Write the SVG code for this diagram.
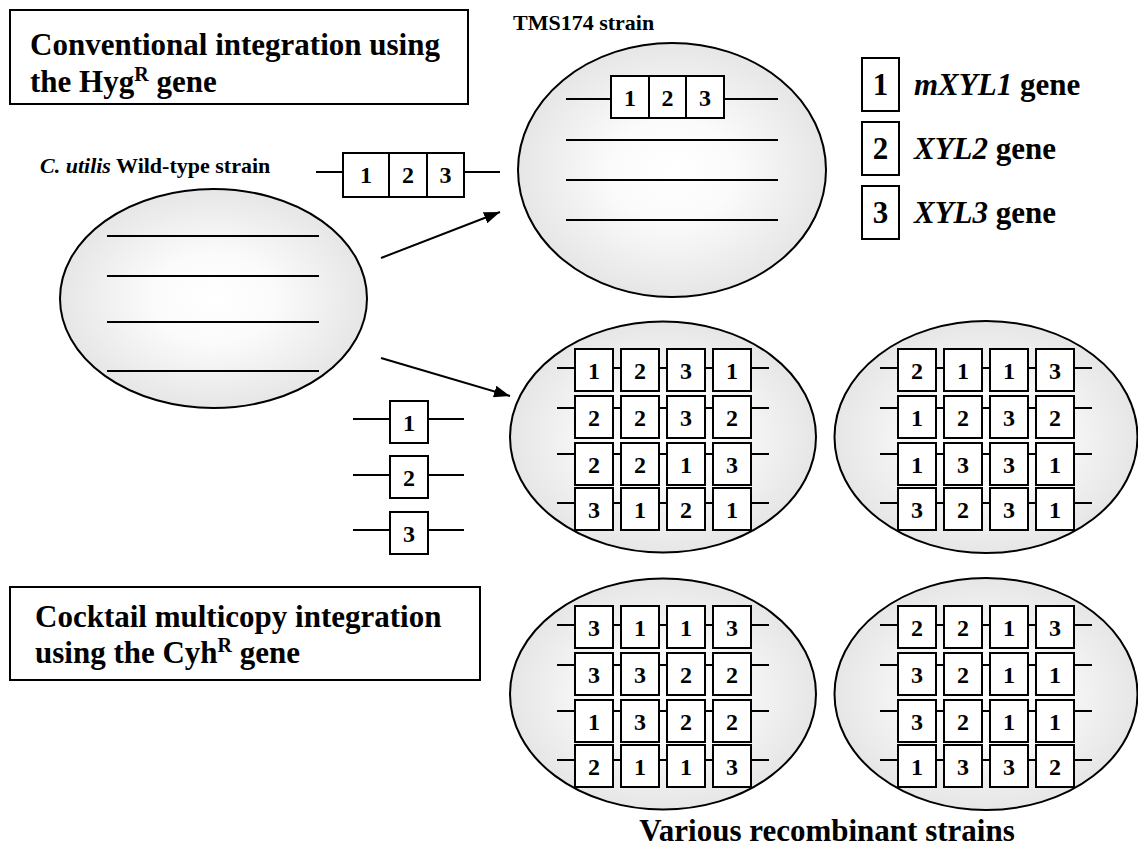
<svg xmlns="http://www.w3.org/2000/svg" xmlns:xlink="http://www.w3.org/1999/xlink" width="1138" height="852" viewBox="0 0 1138 852">
<style>
.cell{fill:url(#cellGrad);stroke:#000;stroke-width:2}
.dna{stroke:#000;stroke-width:2;fill:none}
.gene{fill:#fff;stroke:#000;stroke-width:2}
.frame{fill:#fff;stroke:#000;stroke-width:2}
.num{font-family:"Liberation Serif","Times New Roman",serif;font-weight:bold;font-size:24px;text-anchor:middle;fill:#000}
.num-lg{font-family:"Liberation Serif","Times New Roman",serif;font-weight:bold;font-size:31px;text-anchor:middle;fill:#000}
.title{font-family:"Liberation Serif","Times New Roman",serif;font-weight:bold;font-size:31px;fill:#000}
.label{font-family:"Liberation Serif","Times New Roman",serif;font-weight:bold;font-size:22px;fill:#000}
.conn{stroke:#000;stroke-width:2;fill:none}
</style>
<defs>
<radialGradient id="cellGrad" cx="50%" cy="50%" r="50%">
<stop offset="0" stop-color="#ffffff"/>
<stop offset="0.4" stop-color="#fbfbfb"/>
<stop offset="1" stop-color="#e6e6e6"/>
</radialGradient>
<marker id="arrow" viewBox="0 0 16 12" refX="16" refY="6" markerWidth="16" markerHeight="12" markerUnits="userSpaceOnUse" orient="auto">
<path d="M0,0 L16,6 L0,12 z" fill="#000"/>
</marker>
<g id="grid">
<path class="dna" d="M-106,-69 H106 M-106,-29 H106 M-106,17 H106 M-106,66 H106"/>
<rect class="gene" x="-88" y="-88" width="38" height="42"/><rect class="gene" x="-42" y="-88" width="38" height="42"/><rect class="gene" x="4" y="-88" width="38" height="42"/><rect class="gene" x="50" y="-88" width="38" height="42"/>
<rect class="gene" x="-88" y="-41" width="38" height="42"/><rect class="gene" x="-42" y="-41" width="38" height="42"/><rect class="gene" x="4" y="-41" width="38" height="42"/><rect class="gene" x="50" y="-41" width="38" height="42"/>
<rect class="gene" x="-88" y="6" width="38" height="42"/><rect class="gene" x="-42" y="6" width="38" height="42"/><rect class="gene" x="4" y="6" width="38" height="42"/><rect class="gene" x="50" y="6" width="38" height="42"/>
<rect class="gene" x="-88" y="51" width="38" height="42"/><rect class="gene" x="-42" y="51" width="38" height="42"/><rect class="gene" x="4" y="51" width="38" height="42"/><rect class="gene" x="50" y="51" width="38" height="42"/>
</g>
</defs>

<g id="box-conventional">
<rect class="frame" x="10" y="10" width="458" height="94"/>
<text class="title" x="30" y="55">Conventional integration using</text>
<text class="title" x="30" y="92">the Hyg<tspan font-size="20" dy="-11">R</tspan><tspan dy="11"> gene</tspan></text>
</g>

<g id="box-cocktail">
<rect class="frame" x="10" y="587" width="470" height="93"/>
<text class="title" x="35" y="627">Cocktail multicopy integration</text>
<text class="title" x="35" y="663">using the Cyh<tspan font-size="20" dy="-11">R</tspan><tspan dy="11"> gene</tspan></text>
</g>

<g id="wild-type">
<text class="label" x="40" y="173"><tspan font-style="italic">C. utilis</tspan> Wild-type strain</text>
<ellipse class="cell" cx="213.5" cy="298.5" rx="153.5" ry="109.5"/>
<path class="dna" d="M107,236 H319 M107,276 H319 M107,322 H319 M107,371 H319"/>
</g>

<g id="construct-123">
<path class="dna" d="M316,172 H500"/>
<rect class="gene" x="343" y="153" width="46" height="44"/>
<rect class="gene" x="389" y="153" width="38" height="44"/>
<rect class="gene" x="427" y="153" width="37" height="44"/>
<text class="num" x="366" y="183">1</text>
<text class="num" x="408" y="183">2</text>
<text class="num" x="445.5" y="183">3</text>
</g>

<g id="tms174">
<text class="label" x="513" y="30">TMS174 strain</text>
<ellipse class="cell" cx="672" cy="170" rx="154" ry="127"/>
<path class="dna" d="M566,99 H778 M566,140 H778 M566,180 H778 M566,220 H778"/>
<rect class="gene" x="611" y="76" width="38" height="42"/>
<rect class="gene" x="649" y="76" width="37" height="42"/>
<rect class="gene" x="686" y="76" width="38" height="42"/>
<text class="num" x="630" y="106">1</text>
<text class="num" x="667.5" y="106">2</text>
<text class="num" x="705" y="106">3</text>
</g>

<g id="legend">
<rect class="gene" x="862" y="58" width="37" height="53"/>
<rect class="gene" x="862" y="122" width="37" height="53"/>
<rect class="gene" x="862" y="186" width="37" height="53"/>
<text class="num-lg" x="880.5" y="95">1</text>
<text class="num-lg" x="880.5" y="159">2</text>
<text class="num-lg" x="880.5" y="223">3</text>
<text class="title" x="914" y="95"><tspan font-style="italic">mXYL1</tspan> gene</text>
<text class="title" x="914" y="159"><tspan font-style="italic">XYL2</tspan> gene</text>
<text class="title" x="914" y="223"><tspan font-style="italic">XYL3</tspan> gene</text>
</g>

<g id="single-genes">
<path class="dna" d="M353,419 H464 M353,475 H464 M353,530 H464"/>
<rect class="gene" x="390" y="401" width="38" height="42"/>
<rect class="gene" x="390" y="456" width="38" height="42"/>
<rect class="gene" x="390" y="512" width="38" height="42"/>
<text class="num" x="409" y="431">1</text>
<text class="num" x="409" y="486">2</text>
<text class="num" x="409" y="542">3</text>
</g>

<g id="recombinant-1" transform="translate(663,437)">
<ellipse class="cell" cx="0" cy="0" rx="153" ry="115.5"/>
<use xlink:href="#grid" href="#grid"/>
<text class="num" x="-69" y="-58">1</text><text class="num" x="-23" y="-58">2</text><text class="num" x="23" y="-58">3</text><text class="num" x="69" y="-58">1</text>
<text class="num" x="-69" y="-11">2</text><text class="num" x="-23" y="-11">2</text><text class="num" x="23" y="-11">3</text><text class="num" x="69" y="-11">2</text>
<text class="num" x="-69" y="36">2</text><text class="num" x="-23" y="36">2</text><text class="num" x="23" y="36">1</text><text class="num" x="69" y="36">3</text>
<text class="num" x="-69" y="81">3</text><text class="num" x="-23" y="81">1</text><text class="num" x="23" y="81">2</text><text class="num" x="69" y="81">1</text>
</g>

<g id="recombinant-2" transform="translate(986,437)">
<ellipse class="cell" cx="0" cy="0" rx="151.5" ry="116"/>
<use xlink:href="#grid" href="#grid"/>
<text class="num" x="-69" y="-58">2</text><text class="num" x="-23" y="-58">1</text><text class="num" x="23" y="-58">1</text><text class="num" x="69" y="-58">3</text>
<text class="num" x="-69" y="-11">1</text><text class="num" x="-23" y="-11">2</text><text class="num" x="23" y="-11">3</text><text class="num" x="69" y="-11">2</text>
<text class="num" x="-69" y="36">1</text><text class="num" x="-23" y="36">3</text><text class="num" x="23" y="36">3</text><text class="num" x="69" y="36">1</text>
<text class="num" x="-69" y="81">3</text><text class="num" x="-23" y="81">2</text><text class="num" x="23" y="81">3</text><text class="num" x="69" y="81">1</text>
</g>

<g id="recombinant-3" transform="translate(663,694)">
<ellipse class="cell" cx="0" cy="0" rx="153" ry="115.5"/>
<use xlink:href="#grid" href="#grid"/>
<text class="num" x="-69" y="-58">3</text><text class="num" x="-23" y="-58">1</text><text class="num" x="23" y="-58">1</text><text class="num" x="69" y="-58">3</text>
<text class="num" x="-69" y="-11">3</text><text class="num" x="-23" y="-11">3</text><text class="num" x="23" y="-11">2</text><text class="num" x="69" y="-11">2</text>
<text class="num" x="-69" y="36">1</text><text class="num" x="-23" y="36">3</text><text class="num" x="23" y="36">2</text><text class="num" x="69" y="36">2</text>
<text class="num" x="-69" y="81">2</text><text class="num" x="-23" y="81">1</text><text class="num" x="23" y="81">1</text><text class="num" x="69" y="81">3</text>
</g>

<g id="recombinant-4" transform="translate(986,694)">
<ellipse class="cell" cx="0" cy="0" rx="151.5" ry="116"/>
<use xlink:href="#grid" href="#grid"/>
<text class="num" x="-69" y="-58">2</text><text class="num" x="-23" y="-58">2</text><text class="num" x="23" y="-58">1</text><text class="num" x="69" y="-58">3</text>
<text class="num" x="-69" y="-11">3</text><text class="num" x="-23" y="-11">2</text><text class="num" x="23" y="-11">1</text><text class="num" x="69" y="-11">1</text>
<text class="num" x="-69" y="36">3</text><text class="num" x="-23" y="36">2</text><text class="num" x="23" y="36">1</text><text class="num" x="69" y="36">1</text>
<text class="num" x="-69" y="81">1</text><text class="num" x="-23" y="81">3</text><text class="num" x="23" y="81">3</text><text class="num" x="69" y="81">2</text>
</g>

<g id="caption">
<text class="title" x="827" y="841" text-anchor="middle">Various recombinant strains</text>
</g>

<g id="connectors">
<line class="conn" x1="381" y1="258" x2="500" y2="212" marker-end="url(#arrow)"/>
<line class="conn" x1="381" y1="358" x2="510" y2="396" marker-end="url(#arrow)"/>
</g>
</svg>
